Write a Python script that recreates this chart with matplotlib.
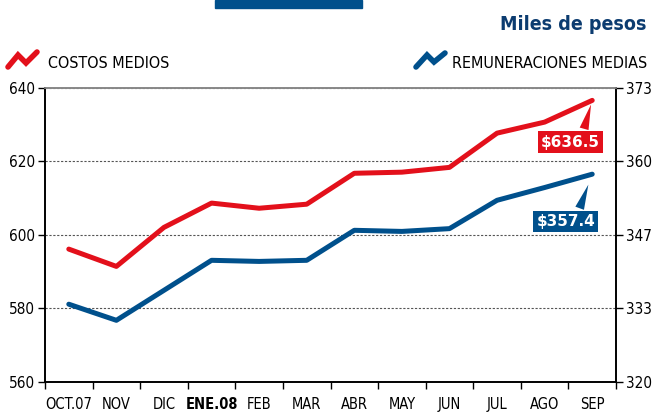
import matplotlib
matplotlib.use("Agg")
import matplotlib.pyplot as plt
from matplotlib.lines import Line2D
from matplotlib.patches import Rectangle

# data
months = ['OCT.07', 'NOV', 'DIC', 'ENE.08', 'FEB', 'MAR', 'ABR', 'MAY', 'JUN', 'JUL', 'AGO', 'SEP']
costos = [596.1, 591.4, 602.0, 608.6, 607.2, 608.3, 616.7, 617.0, 618.3, 627.6, 630.6, 636.5]
remuneraciones = [334.0, 331.1, 336.5, 341.9, 341.7, 341.9, 347.3, 347.1, 347.6, 352.7, 355.0, 357.4]
left_ticks = [560, 580, 600, 620, 640]
right_labels = ['320', '333', '347', '360', '373']

RED = '#e3101b'
BLUE = '#00508c'
NAVY = '#0c3c70'

plt.rcParams['font.family'] = ['DejaVu Sans Condensed', 'DejaVu Sans']
plt.rcParams['font.stretch'] = 'condensed'

W, H = 654, 412
fig = plt.figure(figsize=(W / 100, H / 100), dpi=100)
ax = fig.add_axes([45 / W, 1 - 382 / H, 571 / W, 294.5 / H])
ax2 = ax.twinx()

x = list(range(len(months)))
ax.plot(x, costos, color=RED, lw=3.6, solid_capstyle='round', zorder=3)
ax2.plot(x, remuneraciones, color=BLUE, lw=3.6, solid_capstyle='round', zorder=3)

ax.set_xlim(-0.5, len(months) - 0.5)
ax.set_ylim(560, 640)
ax2.set_ylim(320, 373)

ax.set_yticks(left_ticks)
ax.set_yticklabels([str(v) for v in left_ticks], fontsize=11)
# right ticks share the left gridline positions
r_pos = [320 + (v - 560) * 53 / 80 for v in left_ticks]
ax2.set_yticks(r_pos)
ax2.set_yticklabels(right_labels, fontsize=11)

ax.set_xticks(x)
ax.set_xticklabels(months, fontsize=10.5)
ax.get_xticklabels()[3].set_fontweight('bold')
ax.set_xticks([i - 0.5 for i in range(len(months) + 1)], minor=True)
ax.tick_params(axis='x', which='major', length=0, pad=11)
ax.tick_params(axis='x', which='minor', length=5, width=1, direction='out')
ax.tick_params(axis='y', length=5, width=1, pad=2)
ax2.tick_params(axis='y', length=5, width=1, pad=2)

ax.grid(axis='y', ls=(0, (2, 1.5)), color='#555555', lw=0.8)
ax.grid(axis='x', visible=False)
for a in (ax, ax2):
    a.spines['top'].set_color('#888888')
    a.spines['top'].set_linewidth(1.2)
    for s in ('left', 'right', 'bottom'):
        a.spines[s].set_linewidth(1.2)

# value callouts
ax.annotate('$636.5', xy=(x[-1], costos[-1]), xytext=(-15.5, -30), textcoords='offset points',
            ha='center', va='center', color='white', fontsize=11, fontweight='bold',
            family='DejaVu Sans', fontstretch='normal',
            bbox=dict(boxstyle='square,pad=0.2', fc=RED, ec='none'),
            arrowprops=dict(arrowstyle='wedge,tail_width=0.6', fc=RED, ec='none',
                            relpos=(0.7, 1.0), shrinkB=3), zorder=5)
ax2.annotate('$357.4', xy=(x[-1], remuneraciones[-1]), xytext=(-19, -34), textcoords='offset points',
             ha='center', va='center', color='white', fontsize=11, fontweight='bold',
             family='DejaVu Sans', fontstretch='normal',
             bbox=dict(boxstyle='square,pad=0.2', fc=BLUE, ec='none'),
             arrowprops=dict(arrowstyle='wedge,tail_width=0.6', fc=BLUE, ec='none',
                             relpos=(0.7, 1.0), shrinkB=8), zorder=5)

# header decorations
fig.patches.append(Rectangle((215 / W, 1 - 8 / H), 147 / W, 8 / H, transform=fig.transFigure,
                             color=BLUE, zorder=1))
fig.text(647 / W, 1 - 30 / H, 'Miles de pesos', ha='right', va='baseline',
         fontsize=14, fontweight='bold', color=NAVY)


def zigzag(px, py, color):
    fig.add_artist(Line2D([p / W for p in px], [1 - p / H for p in py], transform=fig.transFigure,
                          color=color, lw=4, solid_capstyle='round', solid_joinstyle='miter'))


zigzag([8, 18, 26, 37], [67, 55, 63, 52], RED)
fig.text(48 / W, 1 - 68 / H, 'COSTOS MEDIOS', ha='left', va='baseline', fontsize=11.5)
zigzag([416, 427, 434, 445], [67, 55, 62, 53], BLUE)
fig.text(647 / W, 1 - 68 / H, 'REMUNERACIONES MEDIAS', ha='right', va='baseline', fontsize=11.5)

fig.savefig('out.png', dpi=100)
